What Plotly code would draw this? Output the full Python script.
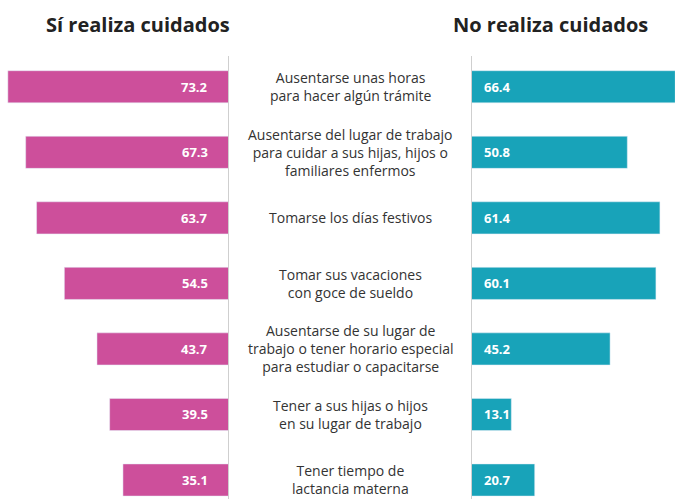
import plotly.graph_objects as go

categories = [
    "Ausentarse unas horas<br>para hacer algún trámite",
    "Ausentarse del lugar de trabajo<br>para cuidar a sus hijas, hijos o<br>familiares enfermos",
    "Tomarse los días festivos",
    "Tomar sus vacaciones<br>con goce de sueldo",
    "Ausentarse de su lugar de<br>trabajo o tener horario especial<br>para estudiar o capacitarse",
    "Tener a sus hijas o hijos<br>en su lugar de trabajo",
    "Tener tiempo de<br>lactancia materna",
]
si_realiza = [73.2, 67.3, 63.7, 54.5, 43.7, 39.5, 35.1]
no_realiza = [66.4, 50.8, 61.4, 60.1, 45.2, 13.1, 20.7]
titles = ["Sí realiza cuidados", "No realiza cuidados"]

PINK = "#cd4f9b"
TEAL = "#18a3b9"
FONT = "Open Sans"
W, H = 675, 499

fig = go.Figure()
fig.add_trace(go.Bar(y=categories, x=si_realiza, orientation="h", marker_color=PINK,
                     width=0.49, xaxis="x", yaxis="y", hoverinfo="skip"))
fig.add_trace(go.Bar(y=categories, x=no_realiza, orientation="h", marker_color=TEAL,
                     width=0.49, xaxis="x2", yaxis="y", hoverinfo="skip"))

top_margin = 54
plot_h = H - top_margin

annotations = []
for c, a, b in zip(categories, si_realiza, no_realiza):
    annotations.append(dict(x=0, y=c, xref="x", yref="y", text=f"<b>{a:.1f}</b>",
                            showarrow=False, xanchor="right", xshift=-19,
                            font=dict(family=FONT, size=13, color="white")))
    annotations.append(dict(x=0, y=c, xref="x2", yref="y", text=f"<b>{b:.1f}</b>",
                            showarrow=False, xanchor="left", xshift=11,
                            font=dict(family=FONT, size=13, color="white")))
    annotations.append(dict(x=350 / W, y=c, xref="paper", yref="y", text=c,
                            showarrow=False, xanchor="center", align="center",
                            font=dict(family=FONT, size=14, color="#333333")))

title_y = 1 + (top_margin - 25) / plot_h
annotations.append(dict(x=137.5 / W, y=title_y, xref="paper", yref="paper", text=f"<b>{titles[0]}</b>",
                        showarrow=False, xanchor="center", yanchor="middle",
                        font=dict(family=FONT, size=20, color="#222222")))
annotations.append(dict(x=550 / W, y=title_y, xref="paper", yref="paper", text=f"<b>{titles[1]}</b>",
                        showarrow=False, xanchor="center", yanchor="middle",
                        font=dict(family=FONT, size=20, color="#222222")))

line_top = 1 - (56 - top_margin) / plot_h
shapes = [
    dict(type="line", xref="x", yref="paper", x0=0, x1=0, y0=0, y1=line_top,
         line=dict(color="#cfcfcf", width=2)),
    dict(type="line", xref="x2", yref="paper", x0=0, x1=0, y0=0, y1=line_top,
         line=dict(color="#cfcfcf", width=2)),
]

fig.update_layout(
    width=W, height=H,
    margin=dict(l=0, r=0, t=top_margin, b=0),
    paper_bgcolor="white", plot_bgcolor="white",
    showlegend=False,
    xaxis=dict(domain=[0, 229 / W], range=[75.8, 0], visible=False, fixedrange=True),
    xaxis2=dict(domain=[471 / W, 1], range=[0, 66.3], visible=False, fixedrange=True),
    yaxis=dict(type="category", categoryorder="array", categoryarray=categories,
               range=[6.29, -0.5], visible=False, fixedrange=True),
    annotations=annotations,
    shapes=shapes,
)

fig.write_html("out.html")
